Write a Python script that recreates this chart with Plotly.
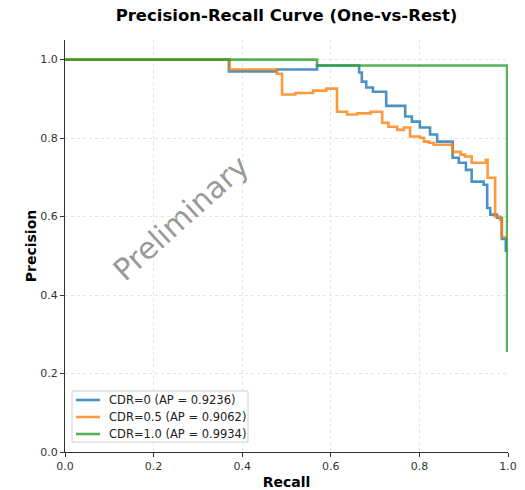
import plotly.graph_objects as go

# ---- data ----
recall_cdr0 = [0.0, 0.370, 0.478, 0.569, 0.664, 0.670, 0.680, 0.695, 0.725, 0.768, 0.783, 0.801,
               0.824, 0.840, 0.875, 0.889, 0.905, 0.918, 0.945, 0.953, 0.960, 0.975, 0.986, 0.995]
precision_cdr0 = [1.0, 0.970, 0.975, 0.985, 0.967, 0.944, 0.929, 0.918, 0.882, 0.855, 0.842, 0.827,
                  0.809, 0.791, 0.750, 0.737, 0.719, 0.689, 0.681, 0.622, 0.605, 0.597, 0.543, 0.510]

recall_cdr05 = [0.0, 0.372, 0.478, 0.490, 0.52, 0.56, 0.59, 0.614, 0.637, 0.66, 0.69, 0.716, 0.730,
                0.750, 0.765, 0.779, 0.801, 0.810, 0.822, 0.832, 0.875, 0.893, 0.903, 0.918, 0.950,
                0.954, 0.971, 0.982, 0.986, 0.995]
precision_cdr05 = [1.0, 0.975, 0.964, 0.911, 0.915, 0.921, 0.926, 0.867, 0.860, 0.863, 0.867, 0.839, 0.829,
                   0.821, 0.827, 0.804, 0.801, 0.791, 0.788, 0.783, 0.765, 0.758, 0.753, 0.737, 0.745,
                   0.699, 0.600, 0.592, 0.548, 0.548]

recall_cdr1 = [0.0, 0.569, 0.998]
precision_cdr1 = [1.0, 0.985, 0.255]

series_names = ["CDR=0 (AP = 0.9236)", "CDR=0.5 (AP = 0.9062)", "CDR=1.0 (AP = 0.9934)"]
series_colors = ["rgba(31,119,180,0.8)", "rgba(255,127,14,0.8)", "rgba(44,160,44,0.8)"]

x_ticks = [0.0, 0.2, 0.4, 0.6, 0.8, 1.0]
y_ticks = [0.0, 0.2, 0.4, 0.6, 0.8, 1.0]

FONT = "DejaVu Sans"
L, R, T, B = 65, 17, 40, 38
W, H = 525, 490
PW, PH = W - L - R, H - T - B


def px_x(p):  # pixel -> paper x (plot-area fraction)
    return (p - L) / PW


def px_y(p):  # pixel -> paper y
    return (H - B - p) / PH


fig = go.Figure()
for xs, ys, name, col in zip([recall_cdr0, recall_cdr05, recall_cdr1],
                             [precision_cdr0, precision_cdr05, precision_cdr1],
                             series_names, series_colors):
    fig.add_trace(go.Scatter(x=xs, y=ys, mode="lines", name=name, showlegend=False,
                             line=dict(color=col, width=2.6, shape="hv")))

fig.update_layout(
    width=W, height=H,
    margin=dict(l=L, r=R, t=T, b=B, autoexpand=False),
    paper_bgcolor="white", plot_bgcolor="white",
    font=dict(family=FONT, size=11, color="#333"),
    title=dict(text="<b>Precision-Recall Curve (One-vs-Rest)</b>",
               x=(L + W - R) / 2 / W, xanchor="center", y=1 - 15 / H, yanchor="middle",
               font=dict(family=FONT, size=16.5, color="black")),
    showlegend=False,
)
fig.update_xaxes(range=[0, 1], tickvals=x_ticks, ticktext=[f"{v:.1f}" for v in x_ticks],
                 showline=True, linecolor="#333", linewidth=1, ticks="outside", ticklen=4,
                 tickcolor="#333", showgrid=True, gridcolor="#e3e3e3", griddash="dot",
                 zeroline=False, mirror=False, automargin=False,
                 title=dict(text="<b>Recall</b>", font=dict(family=FONT, size=14, color="black"),
                            standoff=7))
fig.update_yaxes(range=[0, 1.05], tickvals=y_ticks, ticktext=[f"{v:.1f}" for v in y_ticks],
                 showline=True, linecolor="#333", linewidth=1, ticks="outside", ticklen=4,
                 tickcolor="#333", showgrid=True, gridcolor="#e3e3e3", griddash="dot",
                 zeroline=False, mirror=False, automargin=False,
                 title=dict(text="<b>Precision</b>", font=dict(family=FONT, size=14, color="black"),
                            standoff=0))

# legend box (matplotlib-style, compact rows)
fig.add_shape(type="rect", xref="paper", yref="paper",
              x0=px_x(72), x1=px_x(248), y0=px_y(442), y1=px_y(391),
              line=dict(color="#cfcfcf", width=1), fillcolor="rgba(255,255,255,0.85)", layer="above")
row_y = [400, 417, 434]
for ry, name, col in zip(row_y, series_names, series_colors):
    fig.add_shape(type="line", xref="paper", yref="paper",
                  x0=px_x(76), x1=px_x(100), y0=px_y(ry), y1=px_y(ry),
                  line=dict(color=col, width=2.6), layer="above")
    fig.add_annotation(text=name, xref="paper", yref="paper", x=px_x(107), y=px_y(ry),
                       xanchor="left", yanchor="middle", showarrow=False,
                       font=dict(family=FONT, size=11.5, color="#222"))

fig.add_annotation(text="Preliminary", xref="paper", yref="paper",
                   x=px_x(180), y=px_y(218), xanchor="center", yanchor="middle",
                   showarrow=False, textangle=-42,
                   font=dict(family=FONT, size=30, color="rgba(120,120,120,0.75)"))

fig.write_html("out.html")
